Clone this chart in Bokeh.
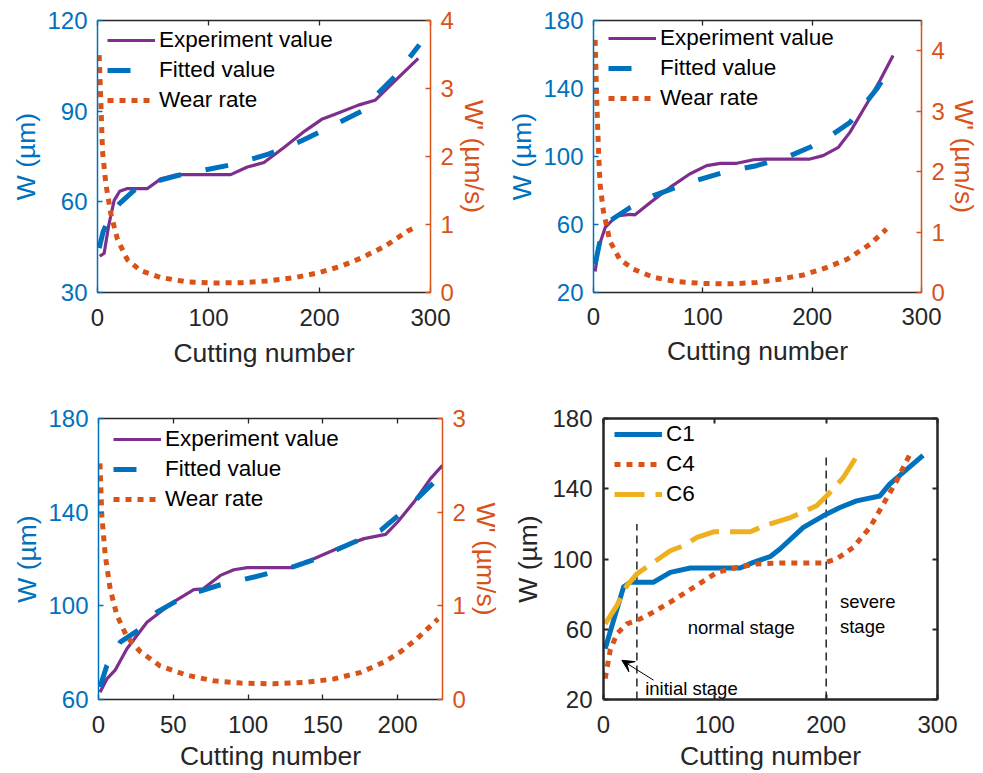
import math
from bokeh.plotting import figure
from bokeh.models import (Range1d, LinearAxis, FixedTicker, Legend, LegendItem,
                          Arrow, VeeHead)
from bokeh.layouts import column, row
from bokeh.embed import file_html
from bokeh.resources import INLINE
from bokeh.core.properties import value

# ---------------- data ----------------
# Panel (a)
x1_exp = [2, 6, 10, 15, 20, 27, 45, 57, 72, 120, 135, 150, 168, 187, 202, 214, 235, 250, 268, 289]
y1_exp = [42, 43, 52, 60.5, 63.5, 64.4, 64.4, 67.6, 69, 69, 71.5, 73, 78, 83.5, 87.3, 89, 92, 93.6, 100, 107.5]
x1_fit = [1.5, 5, 12, 20, 33, 50, 72, 100, 124, 154, 184, 214, 238, 253, 268, 290]
y1_fit = [44.7, 50, 56, 59.5, 63.8, 66.5, 68.7, 70.8, 72.5, 75.8, 80.2, 85.6, 90, 96, 101.5, 112]
x1_rate = [1.5, 3, 4.5, 7.5, 12, 18, 27, 39, 57, 81, 105, 130, 154, 178, 199, 220, 238, 259, 279, 288]
r1_rate = [3.49, 2.81, 2.08, 1.6, 1.16, 0.78, 0.48, 0.32, 0.22, 0.155, 0.14, 0.145, 0.17, 0.22, 0.29, 0.39, 0.51, 0.68, 0.9, 0.97]

# Panel (b)
x2_exp = [1.5, 4.6, 10.7, 21, 33.5, 38, 52, 70, 88, 103.5, 116, 131, 146.5, 158, 198, 210, 224, 234.5, 250, 262, 274]
y2_exp = [32.4, 46.5, 58.3, 65, 66, 65.7, 73, 81.8, 89.7, 94.6, 96, 96, 98.1, 98.5, 98.5, 100.5, 105.4, 114.2, 131, 144.7, 159.4]
x2_fit = [1.5, 6, 15, 33.5, 55, 88, 119, 149, 180, 198, 219, 234.5, 259, 274]
y2_fit = [36.7, 50.4, 62.2, 70, 77, 84.8, 90.7, 94.6, 100.5, 105.4, 113.2, 120, 139.7, 154.5]
x2_rate = [1.5, 3, 4.6, 6, 9, 15, 24, 36.5, 55, 76, 100.5, 125, 149, 170.5, 192, 213, 232, 253, 268]
r2_rate = [4.18, 3.16, 2.34, 1.79, 1.35, 0.85, 0.55, 0.385, 0.25, 0.18, 0.15, 0.143, 0.165, 0.22, 0.29, 0.41, 0.55, 0.8, 1.05]

# Panel (c)
x3_exp = [1, 5.6, 11, 19, 32.4, 50, 63.7, 70, 81.5, 90.5, 99.4, 128.5, 144, 162, 177.6, 192, 200, 211, 222, 230]
y3_exp = [63.1, 68.8, 72.4, 81.7, 93, 101.6, 106.9, 107.3, 113, 115.4, 116.3, 116.3, 120.1, 125.1, 128.7, 130.5, 135.8, 144.4, 154.3, 160]
x3_fit = [1, 5.6, 14.5, 28, 39, 59, 81.5, 104, 128.5, 146, 168.7, 188.8, 202, 213, 224.6]
y3_fit = [65.3, 74.5, 84.5, 90.2, 97.3, 104.5, 109, 112.3, 116.3, 120.1, 126.6, 132.3, 139.4, 145.8, 152.9]
x3_rate = [1, 2.2, 4.5, 7.8, 12.3, 19, 28, 41, 59, 77, 95, 117, 140, 157.5, 175.4, 191, 202, 213, 227]
r3_rate = [2.52, 1.97, 1.54, 1.18, 0.9, 0.67, 0.51, 0.36, 0.26, 0.2, 0.175, 0.167, 0.185, 0.22, 0.29, 0.4, 0.51, 0.65, 0.86]

# Panel (d)
x_c1 = [1.5, 9, 18, 24, 45, 60, 78, 122.6, 134.6, 149.6, 158.5, 179.5, 197.4, 212.4, 227.3, 248.3, 257, 287]
y_c1 = [48.9, 65, 84, 86.8, 86.8, 92.4, 94.9, 94.9, 98.1, 101.3, 105.7, 118, 124.6, 129.3, 133.1, 135.9, 142.6, 159]
x_c4 = [1.5, 6, 12, 21, 30, 42, 60, 81, 102, 120, 137.6, 158.5, 197.4, 209.4, 224.4, 239.3, 251.3, 263.2, 275.2]
y_c4 = [31.9, 48, 57.4, 63.1, 65, 68.8, 75.4, 83.9, 92.4, 95.2, 97.2, 97.7, 97.7, 100, 106.6, 118, 131.2, 144.4, 159.6]
x_c6 = [1.5, 12, 21, 30, 45, 60, 72, 84, 99, 132, 144, 168, 191.4, 200.4, 215.4, 229]
y_c6 = [63.1, 73.5, 84.9, 91.5, 98.1, 104.7, 107.6, 112.3, 115.5, 115.5, 118.9, 123.6, 130.3, 135.9, 146.4, 160]

stage_x = [30, 200]
stage_bottom = [20, 20]
stage_top = [120, 160]
note_text = ["normal stage", "severe", "stage", "initial stage"]
note_x = [75.7, 212.4, 212.4, 37.4]
note_y = [61.2, 76, 61.8, 26.2]
arrow_from = (45, 31)
arrow_to = (16.5, 42.3)

ticks_x300 = [0, 100, 200, 300]
ticks_x230 = [0, 50, 100, 150, 200]
ticks_w1 = [30, 60, 90, 120]
ticks_w2 = [20, 60, 100, 140, 180]
ticks_w3 = [60, 100, 140, 180]
ticks_r4 = [0, 1, 2, 3, 4]
ticks_r3 = [0, 1, 2, 3]

labels_abc = ["Experiment value", "Fitted value", "Wear rate"]
labels_d = ["C1", "C4", "C6"]
x_title = "Cutting number"
w_title = "W (µm)"
r_title = "W' (µm/s)"

# ---------------- style ----------------
BLUE = "#0072BD"
ORANGE = "#D95319"
YELLOW = "#EDB120"
PURPLE = "#7E2F8E"
DARK = "#262626"
FONT = "Liberation Sans"
TICK_FS = "24px"
LABEL_FS = "26.5px"
LEG_FS = "22.5px"


def base_fig(w, h, xr, yr, bl, br, bt, bb):
    p = figure(width=w, height=h, x_range=Range1d(*xr), y_range=Range1d(*yr),
               output_backend="svg", toolbar_location=None,
               x_axis_location=None, y_axis_location=None,
               min_border_left=bl, min_border_right=br,
               min_border_top=bt, min_border_bottom=bb)
    p.grid.visible = False
    p.outline_line_color = None
    p.background_fill_color = "white"
    p.border_fill_color = "white"
    return p


def style_axis(ax, color, text_color, ticks, lw, tlw, show=True, lstand=10,
               title=None, astand=5):
    ax.ticker = FixedTicker(ticks=ticks)
    ax.minor_tick_line_color = None
    ax.major_tick_in = 5
    ax.major_tick_out = 0
    ax.axis_line_color = color
    ax.axis_line_width = lw
    ax.major_tick_line_color = color
    ax.major_tick_line_width = tlw
    ax.major_label_text_font = FONT
    if show:
        ax.major_label_text_color = text_color
        ax.major_label_text_font_size = TICK_FS
        ax.major_label_standoff = lstand
    else:
        ax.major_label_text_color = None
        ax.major_label_text_font_size = "1px"
        ax.major_label_standoff = 0
    if title is not None:
        ax.axis_label = title
        ax.axis_label_text_font = FONT
        ax.axis_label_text_font_size = LABEL_FS
        ax.axis_label_text_font_style = "normal"
        ax.axis_label_text_color = text_color
        ax.axis_label_standoff = astand
    return ax


def make_legend(items, loc):
    lg = Legend(items=items, location=loc, margin=0, padding=0,
                border_line_color=None, background_fill_alpha=0,
                glyph_width=48, glyph_height=28, label_height=28, spacing=2,
                label_standoff=4, label_text_font=FONT,
                label_text_font_size=LEG_FS, label_text_color="black")
    return lg


def wear_panel(w, h, xr, yr, rr, bl, br, bt, bb, xt, wt, rt,
               xe, ye, xf, yf, xr_, rr_, leg_loc, stands):
    (bls, bas), (las, rss) = stands
    p = base_fig(w, h, xr, yr, bl, br, bt, bb)
    p.extra_y_ranges = {"rate": Range1d(*rr)}
    bottom = style_axis(LinearAxis(), DARK, DARK, xt, 1.3, 1.3, True,
                        lstand=bls, title=x_title, astand=bas)
    top = style_axis(LinearAxis(), DARK, DARK, xt, 1.3, 1.3, False)
    left = style_axis(LinearAxis(), BLUE, BLUE, wt, 1.5, 1.3, True,
                      lstand=10, title=w_title, astand=las)
    right = style_axis(LinearAxis(y_range_name="rate"), ORANGE, ORANGE, rt,
                       1.5, 1.3, True, lstand=10, title=r_title, astand=rss)
    p.add_layout(bottom, "below")
    p.add_layout(top, "above")
    p.add_layout(left, "left")
    p.add_layout(right, "right")

    r_e = p.line(xe, ye, line_color=PURPLE, line_width=3.2, line_join="round")
    r_f = p.line(xf, yf, line_color=BLUE, line_width=5, line_dash="23 25",
                 line_cap="butt")
    r_r = p.line(xr_, rr_, line_color=ORANGE, line_width=5, line_dash="6 6",
                 line_cap="butt", y_range_name="rate")
    items = [LegendItem(label=labels_abc[0], renderers=[r_e]),
             LegendItem(label=labels_abc[1], renderers=[r_f]),
             LegendItem(label=labels_abc[2], renderers=[r_r])]
    p.add_layout(make_legend(items, leg_loc))
    return p


# top row: shared top border 20, bottom border 94
p1 = wear_panel(491, 386, (0, 300), (30, 120), (0, 4), 97, 60, 20, 94,
                ticks_x300, ticks_w1, ticks_r4,
                x1_exp, y1_exp, x1_fit, y1_fit, x1_rate, r1_rate, (10, 178),
                ((16, 9), (3, 2)))
p2 = wear_panel(492, 386, (0, 300), (20, 180), (0, 4.5), 102, 62, 20, 94,
                ticks_x300, ticks_w2, ticks_r4,
                x2_exp, y2_exp, x2_fit, y2_fit, x2_rate, r2_rate, (15, 180),
                ((15, 8), (3, 1)))
# bottom row: shared top border 32, bottom border 73
p3 = wear_panel(505, 387, (0, 230), (60, 180), (0, 3), 98, 63, 32, 73,
                ticks_x230, ticks_w3, ticks_r3,
                x3_exp, y3_exp, x3_fit, y3_fit, x3_rate, r3_rate, (15, 186),
                ((16, 5), (3, 2)))

# Panel (d)
p4 = base_fig(478, 387, (0, 300), (20, 180), 98, 46, 32, 73)
b4 = style_axis(LinearAxis(), DARK, DARK, ticks_x300, 2.5, 2, True, lstand=16,
                title=x_title, astand=5)
t4 = style_axis(LinearAxis(), DARK, DARK, ticks_x300, 2.5, 2, False)
l4 = style_axis(LinearAxis(), DARK, DARK, ticks_w2, 2.5, 2, True, lstand=11,
                title=w_title, astand=6)
r4 = style_axis(LinearAxis(), DARK, DARK, ticks_w2, 2.5, 2, False)
p4.add_layout(b4, "below")
p4.add_layout(t4, "above")
p4.add_layout(l4, "left")
p4.add_layout(r4, "right")

p4.segment(x0=stage_x, y0=stage_bottom, x1=stage_x, y1=stage_top,
           line_color="black", line_width=1.3, line_dash="8 5")
g1 = p4.line(x_c1, y_c1, line_color=BLUE, line_width=5, line_join="round")
g4 = p4.line(x_c4, y_c4, line_color=ORANGE, line_width=5, line_dash="6 6",
             line_cap="butt")
g6 = p4.line(x_c6, y_c6, line_color=YELLOW, line_width=5, line_dash="30 11",
             line_cap="butt")
p4.text(x=note_x, y=note_y, text=note_text, text_font=value(FONT),
        text_font_size=value("18.5px"), text_color="black",
        text_align="left", text_baseline="middle")
p4.add_layout(Arrow(end=VeeHead(size=12, fill_color="black", line_color="black",
                                line_width=1),
                    x_start=arrow_from[0], y_start=arrow_from[1],
                    x_end=arrow_to[0], y_end=arrow_to[1],
                    line_color="black", line_width=1))
items4 = [LegendItem(label=labels_d[0], renderers=[g1]),
          LegendItem(label=labels_d[1], renderers=[g4]),
          LegendItem(label=labels_d[2], renderers=[g6])]
p4.add_layout(make_legend(items4, (11, 191)))

layout = column(row(p1, p2), row(p3, p4))
open("out.html", "w").write(file_html(layout, INLINE))
